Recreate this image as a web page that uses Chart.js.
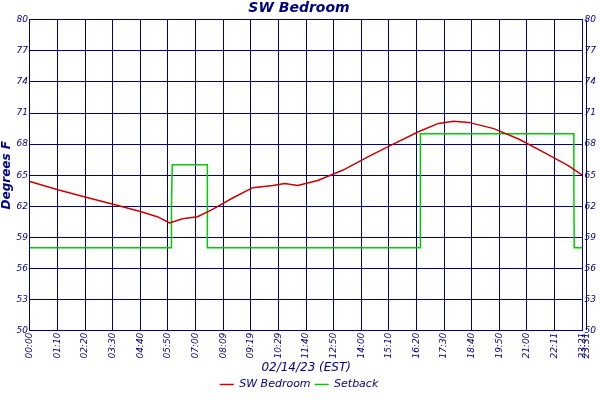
<!DOCTYPE html>
<html><head><script src="https://cdn.jsdelivr.net/npm/chart.js@4"></script>
<style>body{margin:0;background:#fff}#w{width:600px;height:400px}</style></head>
<body><div id="w"><canvas id="c"></canvas></div>
<script>
const tempMinutes=[0,71,140,211,280,323,354,387,425,463,514,565,616,646,679,730,794,858,921,985,1036,1074,1112,1176,1239,1303,1366,1400];
const tempValues=[64.4,63.6,62.9,62.2,61.5,61.0,60.4,60.8,61.0,61.7,62.8,63.8,64.0,64.2,64.0,64.5,65.5,66.8,68.0,69.2,70.0,70.2,70.1,69.5,68.5,67.2,65.9,65.0];
const setMinutes=[0,359,359,361,450,450,990,990,1379,1379,1380,1401];
const setValues=[58,58,62,66,66,58,58,69,69,63.5,58,58];
const tickMinutes=[0,70,140,210,280,350,420,490,560,630,700,770,840,910,980,1050,1120,1190,1260,1331,1401,1411];
const tickLabels=["00:00","01:10","02:20","03:30","04:40","05:50","07:00","08:09","09:19","10:29","11:40","12:50","14:00","15:10","16:20","17:30","18:40","19:50","21:00","22:11","23:21","23:31"];
const yTicks=[50,53,56,59,62,65,68,71,74,77,80];
const navy='#000080';
const F='DejaVu Sans';
const xy=(xs,ys)=>xs.map((x,i)=>({x,y:ys[i]}));
const yAxis=(pos)=>({type:'linear',position:pos,min:50,max:80,
  afterBuildTicks:a=>{a.ticks=yTicks.map(v=>({value:v}));},
  ticks:{color:navy,font:{family:F,style:'italic',size:9},padding:2},
  grid:{display:pos==='left',color:navy,drawTicks:false,lineWidth:1},
  border:{color:navy},
  title:{display:pos==='left',text:'Degrees F',color:navy,font:{family:F,style:'italic',weight:'bold',size:12},padding:0}});
new Chart(document.getElementById('c'),{type:'line',
 data:{datasets:[
  {label:'SW Bedroom',data:xy(tempMinutes,tempValues),borderColor:'#cc0000',borderWidth:1.5,pointRadius:0,tension:0,yAxisID:'y'},
  {label:'Setback',data:xy(setMinutes,setValues),borderColor:'#00cc00',borderWidth:1.5,pointRadius:0,tension:0,yAxisID:'y'}]},
 options:{responsive:true,maintainAspectRatio:false,animation:false,
  layout:{padding:{left:0,right:2,top:0,bottom:0}},
  plugins:{
   title:{display:true,text:'SW Bedroom',color:navy,font:{family:F,style:'italic',weight:'bold',size:14},padding:{top:0,bottom:3}},
   legend:{position:'bottom',labels:{color:navy,boxWidth:14,boxHeight:0,font:{family:F,style:'italic',size:11},padding:4}},
   tooltip:{enabled:false}},
  scales:{
   x:{type:'linear',min:0,max:1401,
    afterBuildTicks:a=>{a.ticks=tickMinutes.map(v=>({value:v}));},
    ticks:{autoSkip:false,maxRotation:90,minRotation:90,color:navy,font:{family:F,style:'italic',size:9},padding:2,
     callback:(v)=>tickLabels[tickMinutes.indexOf(v)]},
    grid:{color:navy,drawTicks:false},border:{color:navy},
    title:{display:true,text:'02/14/23 (EST)',color:navy,font:{family:F,style:'italic',size:12},padding:{top:0,bottom:0}}},
   y:yAxis('left'),
   y2:yAxis('right')}}});
</script></body></html>
